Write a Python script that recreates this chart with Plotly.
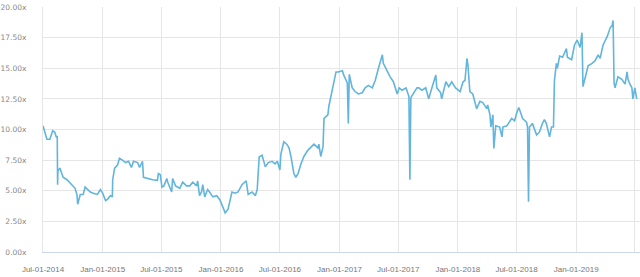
import plotly.graph_objects as go

dates = [
    "2014-07-01", "2014-07-13", "2014-07-22", "2014-07-31", "2014-08-06", "2014-08-11", "2014-08-14",
    "2014-08-15", "2014-08-16", "2014-08-22", "2014-09-01", "2014-09-13", "2014-09-29", "2014-10-08",
    "2014-10-14", "2014-10-16", "2014-10-24", "2014-11-02", "2014-11-08", "2014-11-15", "2014-11-24",
    "2014-12-03", "2014-12-16", "2014-12-25",
    "2015-01-01", "2015-01-10", "2015-01-16", "2015-01-25", "2015-01-31", "2015-02-01", "2015-02-07",
    "2015-02-16", "2015-02-22", "2015-03-03", "2015-03-13", "2015-03-22", "2015-03-31", "2015-04-06",
    "2015-04-19", "2015-04-25", "2015-05-04", "2015-05-07", "2015-05-19", "2015-06-04", "2015-06-19",
    "2015-06-22", "2015-06-28",
    "2015-07-03", "2015-07-09", "2015-07-18", "2015-07-21", "2015-08-02", "2015-08-05", "2015-08-14",
    "2015-08-27", "2015-09-05", "2015-09-17", "2015-09-27", "2015-10-06", "2015-10-18", "2015-10-21",
    "2015-10-27", "2015-11-02", "2015-11-06", "2015-11-12", "2015-11-21", "2015-11-27", "2015-12-07",
    "2015-12-19", "2015-12-29",
    "2016-01-08", "2016-01-14", "2016-01-23", "2016-02-04", "2016-02-14", "2016-02-23", "2016-03-06",
    "2016-03-19", "2016-03-25", "2016-04-06", "2016-04-16", "2016-04-22", "2016-04-28", "2016-05-07",
    "2016-05-17", "2016-05-26", "2016-06-07", "2016-06-16", "2016-06-23",
    "2016-07-01", "2016-07-04", "2016-07-13", "2016-07-22", "2016-07-29", "2016-08-04", "2016-08-13",
    "2016-08-19", "2016-08-26", "2016-09-04", "2016-09-13", "2016-09-25", "2016-10-05", "2016-10-14",
    "2016-10-26", "2016-10-29", "2016-11-04", "2016-11-11", "2016-11-14", "2016-11-26", "2016-11-29",
    "2016-12-05", "2016-12-11", "2016-12-14", "2016-12-21", "2016-12-28",
    "2017-01-10", "2017-01-13", "2017-01-19", "2017-01-25", "2017-01-28", "2017-01-31", "2017-02-09",
    "2017-02-18", "2017-02-28", "2017-03-12", "2017-03-21", "2017-03-31", "2017-04-12", "2017-04-21",
    "2017-04-30", "2017-05-13", "2017-05-16", "2017-05-28", "2017-06-06", "2017-06-16", "2017-06-28",
    "2017-07-04", "2017-07-13", "2017-07-25", "2017-08-03", "2017-08-06", "2017-08-09", "2017-08-18",
    "2017-08-28", "2017-09-03", "2017-09-12", "2017-09-24", "2017-10-03", "2017-10-13", "2017-10-25",
    "2017-10-28", "2017-11-09", "2017-11-12", "2017-11-25", "2017-12-04", "2017-12-13", "2017-12-25",
    "2018-01-08", "2018-01-17", "2018-01-23", "2018-01-29", "2018-02-01", "2018-02-07", "2018-02-16",
    "2018-02-28", "2018-03-10", "2018-03-19", "2018-03-31", "2018-04-03", "2018-04-10", "2018-04-13",
    "2018-04-19", "2018-04-22", "2018-04-28", "2018-05-10", "2018-05-17", "2018-05-20", "2018-06-01",
    "2018-06-16", "2018-06-25",
    "2018-07-02", "2018-07-08", "2018-07-20", "2018-08-01", "2018-08-04", "2018-08-07", "2018-08-10",
    "2018-08-19", "2018-09-01", "2018-09-10", "2018-09-19", "2018-09-25", "2018-10-01", "2018-10-11",
    "2018-10-17", "2018-10-23", "2018-10-26", "2018-11-01", "2018-11-04", "2018-11-11", "2018-11-20",
    "2018-12-02", "2018-12-05", "2018-12-18", "2018-12-27",
    "2019-01-04", "2019-01-13", "2019-01-19", "2019-01-22", "2019-01-28", "2019-02-07", "2019-02-19",
    "2019-02-28", "2019-03-10", "2019-03-16", "2019-03-25", "2019-04-07", "2019-04-16", "2019-04-22",
    "2019-04-25", "2019-04-28", "2019-05-01", "2019-05-10", "2019-05-22", "2019-06-01", "2019-06-07",
    "2019-06-10", "2019-06-16", "2019-06-22", "2019-06-25", "2019-07-01", "2019-07-07",
]

values = [
    10.3, 9.2, 9.2, 9.9, 9.8, 9.4, 9.4,
    5.5, 6.6, 6.85, 6.1, 5.9, 5.5, 5.2,
    4.65, 3.9, 4.7, 4.7, 5.3, 5.1, 4.9,
    4.8, 4.7, 5.1,
    4.8, 4.2, 4.3, 4.6, 4.5, 5.9, 6.85,
    7.1, 7.65, 7.5, 7.3, 7.4, 6.9, 7.4,
    7.3, 6.9, 7.4, 6.1, 6.0, 5.9, 5.85,
    6.4, 6.3,
    5.3, 5.4, 6.0, 5.7, 4.9, 6.0, 5.4,
    5.2, 5.7, 5.4, 5.4, 5.7, 5.4, 5.8,
    4.6, 4.9, 5.5, 4.5, 5.1, 4.9, 4.5,
    4.6, 4.25,
    3.6, 3.2, 3.5, 4.9, 4.8, 4.9, 5.5,
    5.8, 4.7, 4.9, 4.6, 5.1, 7.75, 7.9,
    6.95, 7.3, 7.4, 7.2, 7.4,
    6.7, 8.0, 9.0, 8.8, 8.5, 7.8, 6.4,
    6.1, 6.4, 7.2, 7.8, 8.3, 8.6, 8.8,
    8.5, 8.8, 7.8, 8.6, 10.9, 11.2, 11.9,
    12.7, 13.6, 13.8, 14.7, 14.7,
    14.8, 14.5, 14.1, 13.8, 10.5, 14.5, 13.4,
    13.1, 12.9, 13.0, 13.4, 13.6, 13.4, 14.0,
    14.9, 16.1, 15.4, 14.7, 14.3, 13.9, 12.9,
    13.4, 13.2, 13.4, 12.7, 5.9, 12.6, 13.0,
    13.4, 13.4, 13.2, 13.4, 12.5, 13.4, 14.45,
    13.4, 13.0, 12.5, 13.9, 13.5, 13.9, 13.4,
    13.1, 13.9, 14.0, 15.8, 15.3, 13.1, 12.9,
    11.7, 12.3, 12.2, 11.7, 12.0, 11.2, 10.2,
    11.2, 8.45, 10.3, 10.2, 9.4, 10.2, 10.3,
    10.9, 10.7,
    11.4, 11.8, 10.9, 10.6, 10.2, 4.1, 10.2,
    10.5, 9.55, 9.8, 10.5, 10.8, 10.5, 9.4,
    10.2, 10.2, 14.0, 15.4, 15.0, 16.0, 15.9,
    16.6, 15.9, 15.7, 16.9,
    17.3, 16.7, 17.9, 13.5, 14.2, 15.2, 15.4,
    15.6, 16.1, 15.8, 16.9, 17.6, 18.3, 18.5,
    18.9, 13.8, 13.4, 14.3, 14.1, 13.7, 14.7,
    14.1, 13.7, 13.4, 12.5, 13.4, 12.5,
]

y_ticks = [0, 2.5, 5, 7.5, 10, 12.5, 15, 17.5, 20]
y_tick_labels = ["%.2fx" % v for v in y_ticks]

fig = go.Figure()
fig.add_trace(go.Scatter(
    x=dates, y=values, mode="lines",
    line=dict(color="#62b5dc", width=1.6),
    hoverinfo="skip",
))

xfont = dict(family="Liberation Sans, Arial, sans-serif", size=8, color="#777777")
yfont = dict(family="DejaVu Sans, Verdana, sans-serif", size=7.5, color="#888888")

fig.update_layout(
    width=640, height=277,
    margin=dict(l=43, r=0, t=7, b=25),
    paper_bgcolor="white", plot_bgcolor="white",
    showlegend=False,
    font=xfont,
    xaxis=dict(
        type="date",
        range=["2014-07-01", "2019-07-17"],
        tick0="2014-07-01", dtick="M6",
        tickformat="%b-%d-%Y",
        showgrid=True, gridcolor="#e6e6e6", gridwidth=1,
        showline=True, linecolor="#ccd6eb", linewidth=1,
        ticks="", zeroline=False,
        ticklabelstandoff=9,
        tickfont=xfont,
    ),
    yaxis=dict(
        range=[0, 20],
        tickvals=y_ticks, ticktext=y_tick_labels,
        showgrid=True, gridcolor="#e6e6e6", gridwidth=1,
        showline=True, linecolor="#e6e6e6", linewidth=1,
        zeroline=False, ticks="",
        ticklabelstandoff=14,
        tickfont=yfont,
    ),
)

fig.write_html("out.html")
